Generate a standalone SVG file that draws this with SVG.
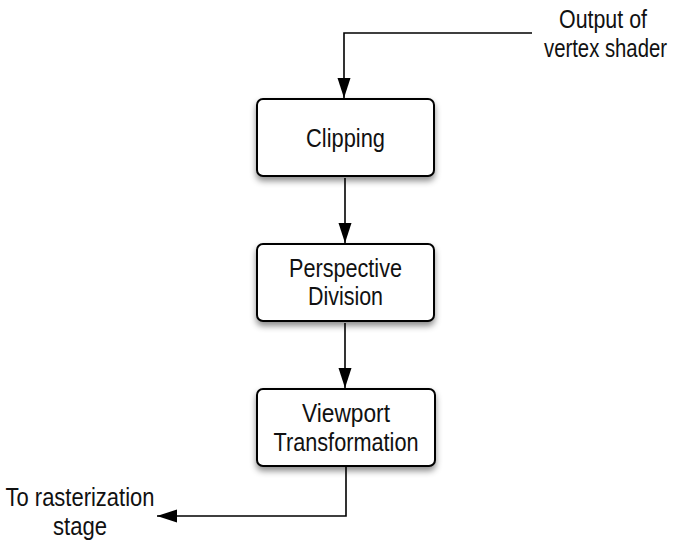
<svg xmlns="http://www.w3.org/2000/svg" width="675" height="540" viewBox="0 0 675 540">
<style>
.box{fill:#fff;stroke:#000;stroke-width:2;filter:url(#sh)}
.t{font-family:"Liberation Sans",Arial,sans-serif;font-size:26px;fill:#111;text-anchor:middle}
.c{fill:none;stroke:#000;stroke-width:1.6;marker-end:url(#ah)}
</style>
<defs>
<filter id="sh" x="-20%" y="-20%" width="140%" height="160%">
<feDropShadow dx="0" dy="4" stdDeviation="3" flood-color="#000" flood-opacity="0.45"/>
</filter>
<marker id="ah" markerUnits="userSpaceOnUse" markerWidth="22" markerHeight="14" refX="20" refY="6.5" orient="auto">
<path d="M0,0 L20,6.5 L0,13 Z" fill="#000"/>
</marker>
</defs>
<g id="connectors">
<path class="c" d="M532,33 H344 V98"/>
<path class="c" d="M345,178 V243"/>
<path class="c" d="M345,323 V388"/>
<path class="c" d="M346,467 V516 H157"/>
</g>
<g id="clipping">
<rect class="box" x="257" y="99" width="177" height="77" rx="6"/>
<text class="t" x="345.5" y="147" textLength="79" lengthAdjust="spacingAndGlyphs">Clipping</text>
</g>
<g id="perspective">
<rect class="box" x="257" y="244" width="177" height="77" rx="6"/>
<text class="t" x="345.5" y="277" textLength="113" lengthAdjust="spacingAndGlyphs">Perspective</text>
<text class="t" x="345.5" y="305" textLength="75" lengthAdjust="spacingAndGlyphs">Division</text>
</g>
<g id="viewport">
<rect class="box" x="257" y="389" width="178" height="77" rx="6"/>
<text class="t" x="346" y="422" textLength="88" lengthAdjust="spacingAndGlyphs">Viewport</text>
<text class="t" x="346" y="451" textLength="145" lengthAdjust="spacingAndGlyphs">Transformation</text>
</g>
<g id="label-in">
<text class="t" x="603" y="28" textLength="88" lengthAdjust="spacingAndGlyphs">Output of</text>
<text class="t" x="605.5" y="57" textLength="123" lengthAdjust="spacingAndGlyphs">vertex shader</text>
</g>
<g id="label-out">
<text class="t" x="80" y="506" textLength="149" lengthAdjust="spacingAndGlyphs">To rasterization</text>
<text class="t" x="80" y="535" textLength="54" lengthAdjust="spacingAndGlyphs">stage</text>
</g>
</svg>
